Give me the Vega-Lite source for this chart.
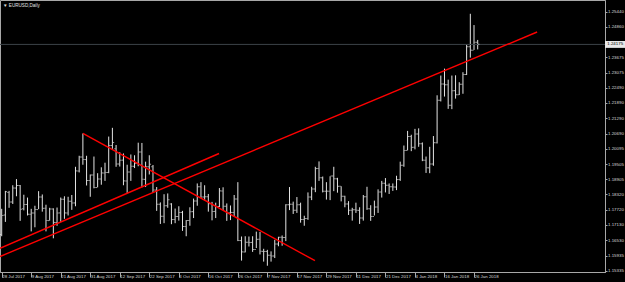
{
 "$schema": "https://vega.github.io/schema/vega-lite/v6.json",
 "width": 605, "height": 272, "padding": {"left": 0, "top": 0, "right": 20, "bottom": 10}, "autosize": {"type": "none"},
 "background": "#000000",
 "config": {"view": {"stroke": "#a8a8a8", "strokeWidth": 1}, "font": "Liberation Sans"},
 "title": {"text": "▼ EURUSD,Daily", "anchor": "start", "frame": "group", "offset": -7.5, "fontSize": 4.6, "color": "#e0e0e0", "fontWeight": "normal", "font": "Liberation Sans", "dx": 3},
 "resolve": {"axis": {"x": "independent", "y": "independent"}},
 "datasets": {
  "bars": [
   {"i":0,"d":"2017-07-28","o":1.1676,"h":1.1776,"l":1.1669,"c":1.1750},
   {"i":1,"d":"2017-07-31","o":1.1752,"h":1.1846,"l":1.1725,"c":1.1843},
   {"i":2,"d":"2017-08-01","o":1.1840,"h":1.1846,"l":1.1780,"c":1.1803},
   {"i":3,"d":"2017-08-02","o":1.1803,"h":1.1868,"l":1.1795,"c":1.1857},
   {"i":4,"d":"2017-08-03","o":1.1857,"h":1.1892,"l":1.1825,"c":1.1867},
   {"i":5,"d":"2017-08-04","o":1.1867,"h":1.1869,"l":1.1729,"c":1.1774},
   {"i":6,"d":"2017-08-07","o":1.1776,"h":1.1831,"l":1.1770,"c":1.1793},
   {"i":7,"d":"2017-08-08","o":1.1793,"h":1.1820,"l":1.1750,"c":1.1755},
   {"i":8,"d":"2017-08-09","o":1.1755,"h":1.1776,"l":1.1688,"c":1.1760},
   {"i":9,"d":"2017-08-10","o":1.1760,"h":1.1788,"l":1.1704,"c":1.1773},
   {"i":10,"d":"2017-08-11","o":1.1773,"h":1.1845,"l":1.1775,"c":1.1822},
   {"i":11,"d":"2017-08-14","o":1.1822,"h":1.1832,"l":1.1765,"c":1.1778},
   {"i":12,"d":"2017-08-15","o":1.1778,"h":1.1792,"l":1.1688,"c":1.1730},
   {"i":13,"d":"2017-08-16","o":1.1730,"h":1.1780,"l":1.1730,"c":1.1775},
   {"i":14,"d":"2017-08-17","o":1.1775,"h":1.1778,"l":1.1661,"c":1.1723},
   {"i":15,"d":"2017-08-18","o":1.1723,"h":1.1781,"l":1.1710,"c":1.1760},
   {"i":16,"d":"2017-08-21","o":1.1760,"h":1.1820,"l":1.1725,"c":1.1813},
   {"i":17,"d":"2017-08-22","o":1.1813,"h":1.1825,"l":1.1737,"c":1.1760},
   {"i":18,"d":"2017-08-23","o":1.1760,"h":1.1823,"l":1.1750,"c":1.1806},
   {"i":19,"d":"2017-08-24","o":1.1806,"h":1.1830,"l":1.1772,"c":1.1799},
   {"i":20,"d":"2017-08-25","o":1.1799,"h":1.1940,"l":1.1786,"c":1.1924},
   {"i":21,"d":"2017-08-28","o":1.1924,"h":1.1983,"l":1.1918,"c":1.1978},
   {"i":22,"d":"2017-08-29","o":1.1978,"h":1.2070,"l":1.1948,"c":1.1968},
   {"i":23,"d":"2017-08-30","o":1.1968,"h":1.1983,"l":1.1867,"c":1.1887},
   {"i":24,"d":"2017-08-31","o":1.1887,"h":1.1910,"l":1.1823,"c":1.1908},
   {"i":25,"d":"2017-09-01","o":1.1908,"h":1.1980,"l":1.1856,"c":1.1859},
   {"i":26,"d":"2017-09-04","o":1.1859,"h":1.1915,"l":1.1860,"c":1.1892},
   {"i":27,"d":"2017-09-05","o":1.1892,"h":1.1938,"l":1.1870,"c":1.1916},
   {"i":28,"d":"2017-09-06","o":1.1916,"h":1.1956,"l":1.1885,"c":1.1918},
   {"i":29,"d":"2017-09-07","o":1.1918,"h":1.2058,"l":1.1915,"c":1.2023},
   {"i":30,"d":"2017-09-08","o":1.2023,"h":1.2092,"l":1.2010,"c":1.2035},
   {"i":31,"d":"2017-09-11","o":1.2010,"h":1.2025,"l":1.1940,"c":1.1951},
   {"i":32,"d":"2017-09-12","o":1.1951,"h":1.1997,"l":1.1941,"c":1.1966},
   {"i":33,"d":"2017-09-13","o":1.1966,"h":1.1992,"l":1.1868,"c":1.1885},
   {"i":34,"d":"2017-09-14","o":1.1885,"h":1.1948,"l":1.1838,"c":1.1920},
   {"i":35,"d":"2017-09-15","o":1.1920,"h":1.1988,"l":1.1885,"c":1.1942},
   {"i":36,"d":"2017-09-18","o":1.1942,"h":1.1985,"l":1.1935,"c":1.1954},
   {"i":37,"d":"2017-09-19","o":1.1954,"h":1.2034,"l":1.1942,"c":1.1998},
   {"i":38,"d":"2017-09-20","o":1.1998,"h":1.2033,"l":1.1860,"c":1.1891},
   {"i":39,"d":"2017-09-21","o":1.1891,"h":1.1960,"l":1.1861,"c":1.1940},
   {"i":40,"d":"2017-09-22","o":1.1940,"h":1.1985,"l":1.1910,"c":1.1950},
   {"i":41,"d":"2017-09-25","o":1.1940,"h":1.1947,"l":1.1838,"c":1.1849},
   {"i":42,"d":"2017-09-26","o":1.1849,"h":1.1861,"l":1.1768,"c":1.1794},
   {"i":43,"d":"2017-09-27","o":1.1794,"h":1.1801,"l":1.1717,"c":1.1747},
   {"i":44,"d":"2017-09-28","o":1.1747,"h":1.1833,"l":1.1720,"c":1.1788},
   {"i":45,"d":"2017-09-29","o":1.1788,"h":1.1836,"l":1.1780,"c":1.1811},
   {"i":46,"d":"2017-10-02","o":1.1795,"h":1.1798,"l":1.1716,"c":1.1734},
   {"i":47,"d":"2017-10-03","o":1.1734,"h":1.1777,"l":1.1720,"c":1.1746},
   {"i":48,"d":"2017-10-04","o":1.1746,"h":1.1786,"l":1.1730,"c":1.1762},
   {"i":49,"d":"2017-10-05","o":1.1762,"h":1.1768,"l":1.1690,"c":1.1707},
   {"i":50,"d":"2017-10-06","o":1.1707,"h":1.1732,"l":1.1669,"c":1.1730},
   {"i":51,"d":"2017-10-09","o":1.1730,"h":1.1782,"l":1.1710,"c":1.1765},
   {"i":52,"d":"2017-10-10","o":1.1765,"h":1.1816,"l":1.1740,"c":1.1807},
   {"i":53,"d":"2017-10-11","o":1.1807,"h":1.1875,"l":1.1788,"c":1.1862},
   {"i":54,"d":"2017-10-12","o":1.1862,"h":1.1880,"l":1.1819,"c":1.1822},
   {"i":55,"d":"2017-10-13","o":1.1822,"h":1.1868,"l":1.1808,"c":1.1823},
   {"i":56,"d":"2017-10-16","o":1.1823,"h":1.1834,"l":1.1765,"c":1.1796},
   {"i":57,"d":"2017-10-17","o":1.1796,"h":1.1803,"l":1.1731,"c":1.1766},
   {"i":58,"d":"2017-10-18","o":1.1766,"h":1.1800,"l":1.1740,"c":1.1785},
   {"i":59,"d":"2017-10-19","o":1.1785,"h":1.1857,"l":1.1783,"c":1.1846},
   {"i":60,"d":"2017-10-20","o":1.1846,"h":1.1860,"l":1.1771,"c":1.1786},
   {"i":61,"d":"2017-10-23","o":1.1786,"h":1.1797,"l":1.1729,"c":1.1760},
   {"i":62,"d":"2017-10-24","o":1.1760,"h":1.1789,"l":1.1732,"c":1.1762},
   {"i":63,"d":"2017-10-25","o":1.1762,"h":1.1830,"l":1.1745,"c":1.1814},
   {"i":64,"d":"2017-10-26","o":1.1814,"h":1.1880,"l":1.1650,"c":1.1652},
   {"i":65,"d":"2017-10-27","o":1.1652,"h":1.1668,"l":1.1574,"c":1.1608},
   {"i":66,"d":"2017-10-30","o":1.1608,"h":1.1669,"l":1.1606,"c":1.1646},
   {"i":67,"d":"2017-10-31","o":1.1646,"h":1.1668,"l":1.1629,"c":1.1645},
   {"i":68,"d":"2017-11-01","o":1.1645,"h":1.1669,"l":1.1608,"c":1.1617},
   {"i":69,"d":"2017-11-02","o":1.1617,"h":1.1687,"l":1.1623,"c":1.1657},
   {"i":70,"d":"2017-11-03","o":1.1657,"h":1.1686,"l":1.1598,"c":1.1610},
   {"i":71,"d":"2017-11-06","o":1.1610,"h":1.1620,"l":1.1570,"c":1.1609},
   {"i":72,"d":"2017-11-07","o":1.1609,"h":1.1616,"l":1.1554,"c":1.1595},
   {"i":73,"d":"2017-11-08","o":1.1595,"h":1.1610,"l":1.1570,"c":1.1592},
   {"i":74,"d":"2017-11-09","o":1.1592,"h":1.1655,"l":1.1584,"c":1.1639},
   {"i":75,"d":"2017-11-10","o":1.1639,"h":1.1667,"l":1.1630,"c":1.1665},
   {"i":76,"d":"2017-11-13","o":1.1665,"h":1.1672,"l":1.1632,"c":1.1664},
   {"i":77,"d":"2017-11-14","o":1.1664,"h":1.1794,"l":1.1650,"c":1.1792},
   {"i":78,"d":"2017-11-15","o":1.1792,"h":1.1861,"l":1.1771,"c":1.1794},
   {"i":79,"d":"2017-11-16","o":1.1794,"h":1.1804,"l":1.1756,"c":1.1770},
   {"i":80,"d":"2017-11-17","o":1.1770,"h":1.1822,"l":1.1760,"c":1.1792},
   {"i":81,"d":"2017-11-20","o":1.1792,"h":1.1800,"l":1.1722,"c":1.1734},
   {"i":82,"d":"2017-11-21","o":1.1734,"h":1.1749,"l":1.1710,"c":1.1738},
   {"i":83,"d":"2017-11-22","o":1.1738,"h":1.1840,"l":1.1733,"c":1.1822},
   {"i":84,"d":"2017-11-23","o":1.1822,"h":1.1862,"l":1.1810,"c":1.1853},
   {"i":85,"d":"2017-11-24","o":1.1853,"h":1.1940,"l":1.1841,"c":1.1933},
   {"i":86,"d":"2017-11-27","o":1.1933,"h":1.1961,"l":1.1885,"c":1.1897},
   {"i":87,"d":"2017-11-28","o":1.1897,"h":1.1902,"l":1.1840,"c":1.1845},
   {"i":88,"d":"2017-11-29","o":1.1845,"h":1.1880,"l":1.1812,"c":1.1845},
   {"i":89,"d":"2017-11-30","o":1.1845,"h":1.1903,"l":1.1810,"c":1.1904},
   {"i":90,"d":"2017-12-01","o":1.1904,"h":1.1940,"l":1.1845,"c":1.1893},
   {"i":91,"d":"2017-12-04","o":1.1893,"h":1.1897,"l":1.1839,"c":1.1864},
   {"i":92,"d":"2017-12-05","o":1.1864,"h":1.1864,"l":1.1805,"c":1.1825},
   {"i":93,"d":"2017-12-06","o":1.1825,"h":1.1827,"l":1.1782,"c":1.1795},
   {"i":94,"d":"2017-12-07","o":1.1795,"h":1.1806,"l":1.1752,"c":1.1770},
   {"i":95,"d":"2017-12-08","o":1.1770,"h":1.1780,"l":1.1730,"c":1.1772},
   {"i":96,"d":"2017-12-11","o":1.1772,"h":1.1800,"l":1.1760,"c":1.1770},
   {"i":97,"d":"2017-12-12","o":1.1770,"h":1.1782,"l":1.1717,"c":1.1740},
   {"i":98,"d":"2017-12-13","o":1.1740,"h":1.1830,"l":1.1730,"c":1.1823},
   {"i":99,"d":"2017-12-14","o":1.1823,"h":1.1862,"l":1.1772,"c":1.1776},
   {"i":100,"d":"2017-12-15","o":1.1776,"h":1.1790,"l":1.1729,"c":1.1746},
   {"i":101,"d":"2017-12-18","o":1.1746,"h":1.1808,"l":1.1750,"c":1.1783},
   {"i":102,"d":"2017-12-19","o":1.1783,"h":1.1852,"l":1.1760,"c":1.1842},
   {"i":103,"d":"2017-12-20","o":1.1842,"h":1.1885,"l":1.1820,"c":1.1876},
   {"i":104,"d":"2017-12-21","o":1.1876,"h":1.1896,"l":1.1840,"c":1.1868},
   {"i":105,"d":"2017-12-22","o":1.1868,"h":1.1875,"l":1.1834,"c":1.1862},
   {"i":106,"d":"2017-12-26","o":1.1862,"h":1.1875,"l":1.1846,"c":1.1861},
   {"i":107,"d":"2017-12-27","o":1.1861,"h":1.1905,"l":1.1849,"c":1.1890},
   {"i":108,"d":"2017-12-28","o":1.1890,"h":1.1960,"l":1.1885,"c":1.1946},
   {"i":109,"d":"2017-12-29","o":1.1946,"h":1.2023,"l":1.1940,"c":1.2004},
   {"i":110,"d":"2018-01-02","o":1.2004,"h":1.2080,"l":1.2004,"c":1.2058},
   {"i":111,"d":"2018-01-03","o":1.2058,"h":1.2065,"l":1.2001,"c":1.2016},
   {"i":112,"d":"2018-01-04","o":1.2016,"h":1.2088,"l":1.2008,"c":1.2068},
   {"i":113,"d":"2018-01-05","o":1.2068,"h":1.2090,"l":1.2018,"c":1.2030},
   {"i":114,"d":"2018-01-08","o":1.2030,"h":1.2035,"l":1.1962,"c":1.1966},
   {"i":115,"d":"2018-01-09","o":1.1966,"h":1.1980,"l":1.1916,"c":1.1936},
   {"i":116,"d":"2018-01-10","o":1.1936,"h":1.2018,"l":1.1915,"c":1.1951},
   {"i":117,"d":"2018-01-11","o":1.1951,"h":1.2060,"l":1.1944,"c":1.2034},
   {"i":118,"d":"2018-01-12","o":1.2034,"h":1.2219,"l":1.2031,"c":1.2200},
   {"i":119,"d":"2018-01-15","o":1.2200,"h":1.2296,"l":1.2195,"c":1.2263},
   {"i":120,"d":"2018-01-16","o":1.2263,"h":1.2323,"l":1.2214,"c":1.2260},
   {"i":121,"d":"2018-01-17","o":1.2260,"h":1.2280,"l":1.2166,"c":1.2180},
   {"i":122,"d":"2018-01-18","o":1.2180,"h":1.2296,"l":1.2165,"c":1.2237},
   {"i":123,"d":"2018-01-19","o":1.2237,"h":1.2297,"l":1.2206,"c":1.2221},
   {"i":124,"d":"2018-01-22","o":1.2221,"h":1.2270,"l":1.2220,"c":1.2262},
   {"i":125,"d":"2018-01-23","o":1.2262,"h":1.2309,"l":1.2225,"c":1.2300},
   {"i":126,"d":"2018-01-24","o":1.2300,"h":1.2417,"l":1.2298,"c":1.2408},
   {"i":127,"d":"2018-01-25","o":1.2408,"h":1.2537,"l":1.2366,"c":1.2395},
   {"i":128,"d":"2018-01-26","o":1.2395,"h":1.2493,"l":1.2396,"c":1.2426},
   {"i":129,"d":"2018-01-29","o":1.2426,"h":1.2435,"l":1.2398,"c":1.2418}
  ],
  "lines": [
   {"id":"a","i":-0.46,"p":1.15900},{"id":"a","i":145.1,"p":1.24660},
   {"id":"b","i":-0.46,"p":1.16220},{"id":"b","i":58.9,"p":1.19919},
   {"id":"c","i":22,"p":1.2070},{"id":"c","i":84.9,"p":1.15736}
  ],
  "price": [{"p":1.24175,"i":164.1,"i1":163.5,"i2":169.5,"top":1.24308,"bot":1.24040,"t":"1.24175"}]
 },
 "layer": [
  {
   "data": {"name": "bars"},
   "mark": {"type": "rule", "color": "#e4e4e4", "strokeWidth": 1},
   "encoding": {
    "x": {"field": "i", "type": "quantitative", "scale": {"domain": [-0.46, 163.5], "nice": false, "zero": false},
     "axis": {"values": [0,8,16,24,32,40,48,56,64,72,80,88,96,104,112,120,128],
      "labelExpr": "['28 Jul 2017','9 Aug 2017','21 Aug 2017','31 Aug 2017','12 Sep 2017','22 Sep 2017','4 Oct 2017','16 Oct 2017','26 Oct 2017','7 Nov 2017','17 Nov 2017','29 Nov 2017','11 Dec 2017','21 Dec 2017','4 Jan 2018','16 Jan 2018','26 Jan 2018'][round(datum.value/8)]",
      "title": null, "grid": false, "domainColor": "#a8a8a8", "tickColor": "#a8a8a8", "tickSize": 5,
      "labelAlign": "left", "labelBaseline": "top", "labelPadding": -3, "labelFontSize": 4.4, "labelFont": "Liberation Sans",
      "labelColor": "#d8d8d8", "labelOverlap": false, "labelFlush": false}},
    "y": {"field": "l", "type": "quantitative", "scale": {"domain": [1.15295, 1.25908], "nice": false, "zero": false},
     "axis": {"orient": "right", "values": [1.25440,1.24860,1.23675,1.23075,1.22490,1.21890,1.21290,1.20690,1.20095,1.19505,1.18905,1.18320,1.17720,1.17130,1.16530,1.15935,1.15335],
      "format": ".5f", "title": null, "grid": false, "domainColor": "#a8a8a8", "tickColor": "#a8a8a8", "tickSize": 2,
      "labelColor": "#d8d8d8", "labelFontSize": 4.4, "labelFont": "Liberation Sans", "labelPadding": 0.5, "labelOverlap": false, "labelFlush": false}},
    "y2": {"field": "h"}
   }
  },
  {
   "data": {"name": "price"},
   "mark": {"type": "rule", "color": "#3c4248", "strokeWidth": 1},
   "encoding": {"y": {"field": "p", "type": "quantitative", "axis": null}}
  },
  {
   "data": {"name": "bars"},
   "mark": {"type": "tick", "orient": "horizontal", "color": "#e4e4e4", "size": 1.3, "thickness": 1, "xOffset": -1.1},
   "encoding": {
    "x": {"field": "i", "type": "quantitative", "axis": null},
    "y": {"field": "o", "type": "quantitative", "axis": null}
   }
  },
  {
   "data": {"name": "bars"},
   "mark": {"type": "tick", "orient": "horizontal", "color": "#e4e4e4", "size": 1.3, "thickness": 1, "xOffset": 1.1},
   "encoding": {
    "x": {"field": "i", "type": "quantitative", "axis": null},
    "y": {"field": "c", "type": "quantitative", "axis": null}
   }
  },
  {
   "data": {"name": "lines"},
   "mark": {"type": "line", "color": "#ff0000", "strokeWidth": 1.4},
   "encoding": {
    "x": {"field": "i", "type": "quantitative", "axis": null},
    "y": {"field": "p", "type": "quantitative", "axis": null},
    "detail": {"field": "id"}
   }
  },
  {
   "data": {"name": "price"},
   "mark": {"type": "rect", "color": "#e8e8e8", "clip": false},
   "encoding": {
    "x": {"field": "i1", "type": "quantitative", "axis": null},
    "x2": {"field": "i2"},
    "y": {"field": "top", "type": "quantitative", "axis": null},
    "y2": {"field": "bot"}
   }
  },
  {
   "data": {"name": "price"},
   "mark": {"type": "text", "color": "#000000", "fontSize": 4.4, "font": "Liberation Sans", "align": "left", "baseline": "middle", "clip": false},
   "encoding": {
    "x": {"field": "i", "type": "quantitative", "axis": null},
    "y": {"field": "p", "type": "quantitative", "axis": null},
    "text": {"field": "t"}
   }
  }
 ]
}
